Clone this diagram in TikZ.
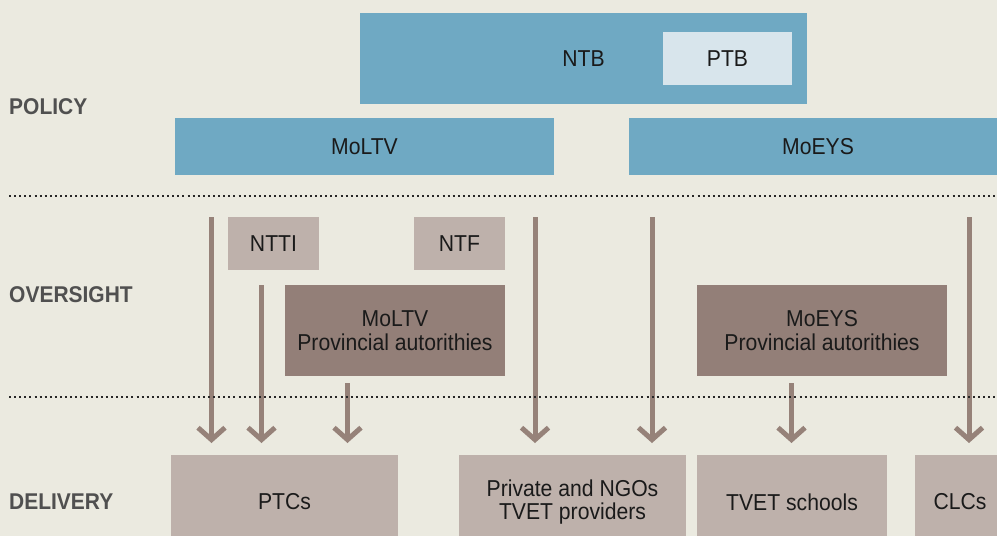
\documentclass[tikz,border=0pt]{standalone}
\usepackage{fontspec}
\setmainfont[FakeStretch=0.92]{Liberation Sans}
\usetikzlibrary{arrows.meta}
\definecolor{bgc}{HTML}{EBEAE0}
\definecolor{bluec}{HTML}{6FA9C3}
\definecolor{ptbc}{HTML}{D8E5EC}
\definecolor{lightc}{HTML}{BEB1AB}
\definecolor{darkc}{HTML}{937F78}
\definecolor{arrc}{HTML}{968279}
\definecolor{labc}{HTML}{505050}
\definecolor{txtc}{HTML}{1A1A1A}
\tikzset{
  box/.style={inner sep=0pt, outer sep=0pt, text=txtc, align=center,
    font=\fontsize{23}{23.5}\selectfont},
  bluebox/.style={box, fill=bluec},
  ptbbox/.style={box, fill=ptbc},
  lightbox/.style={box, fill=lightc},
  darkbox/.style={box, fill=darkc},
  lev/.style={anchor=west, text=labc, inner sep=0pt, font=\fontsize{22.8}{24}\selectfont\bfseries},
  flow/.style={draw=arrc, line width=5pt, -{Straight Barb[length=12pt,width=27pt]}, shorten >=12pt},
  dots/.style={draw=black!85, line width=2.5pt, dash pattern=on 2pt off 3.1pt}
}
\begin{document}
\begin{tikzpicture}[x=1pt,y=-1pt]
\useasboundingbox (0,0) rectangle (997,536);
\fill[bgc] (0,0) rectangle (997,536);
\clip (0,0) rectangle (997,536);

% policy
\node[bluebox, minimum width=447pt, minimum height=91pt] (NTB) at (583.5,58.5) {NTB};
\node[ptbbox, minimum width=129pt, minimum height=53pt] (PTB) at (727.5,58.5) {PTB};
\node[bluebox, minimum width=379pt, minimum height=57pt] (MoLTV) at (364.5,146.5) {MoLTV};
\node[bluebox, minimum width=378pt, minimum height=57pt] (MoEYS) at (818,146.5) {MoEYS};

% oversight
\node[lightbox, minimum width=91pt, minimum height=53pt] (NTTI) at (273.5,243.5) {NTTI};
\node[lightbox, minimum width=91pt, minimum height=53pt] (NTF) at (459.5,243.5) {NTF};
\node[darkbox, minimum width=220pt, minimum height=91pt] (MPA) at (395,330.5) {MoLTV\\Provincial autorithies};
\node[darkbox, minimum width=250pt, minimum height=91pt] (EPA) at (822,330.5) {MoEYS\\Provincial autorithies};

% delivery
\node[lightbox, minimum width=227pt, minimum height=94pt] (PTC) at (284.5,502) {PTCs};
\node[lightbox, minimum width=227pt, minimum height=94pt] (PRV) at (572.5,502) {Private and NGOs\\TVET providers};
\node[lightbox, minimum width=190pt, minimum height=94pt] (TVS) at (792,502) {TVET schools};
\node[lightbox, minimum width=90pt, minimum height=94pt] (CLC) at (960,502) {CLCs};

% level labels
\node[lev] (LP) at (9,107) {POLICY};
\node[lev] (LO) at (9,295) {OVERSIGHT};
\node[lev] (LD) at (9,502) {DELIVERY};

% arrow starts
\coordinate (s1) at (211.5,217);
\coordinate (s2) at (261.5,285);
\coordinate (s3) at (347.5,383);
\coordinate (s4) at (535,217);
\coordinate (s5) at (652,217);
\coordinate (s6) at (791.5,383);
\coordinate (s7) at (969,217);

\draw[flow] (s1) -- (s1 |- PTC.north);
\draw[flow] (s2) -- (s2 |- PTC.north);
\draw[flow] (s3) -- (s3 |- PTC.north);
\draw[flow] (s4) -- (s4 |- PRV.north);
\draw[flow] (s5) -- (s5 |- PRV.north);
\draw[flow] (s6) -- (s6 |- TVS.north);
\draw[flow] (s7) -- (s7 |- CLC.north);

% dotted separators
\coordinate (d1a) at (9,196);
\coordinate (d1b) at (997,196);
\coordinate (d2a) at (9,397);
\coordinate (d2b) at (997,397);
\draw[dots] (d1a) -- (d1b);
\draw[dots] (d2a) -- (d2b);
\end{tikzpicture}
\end{document}
